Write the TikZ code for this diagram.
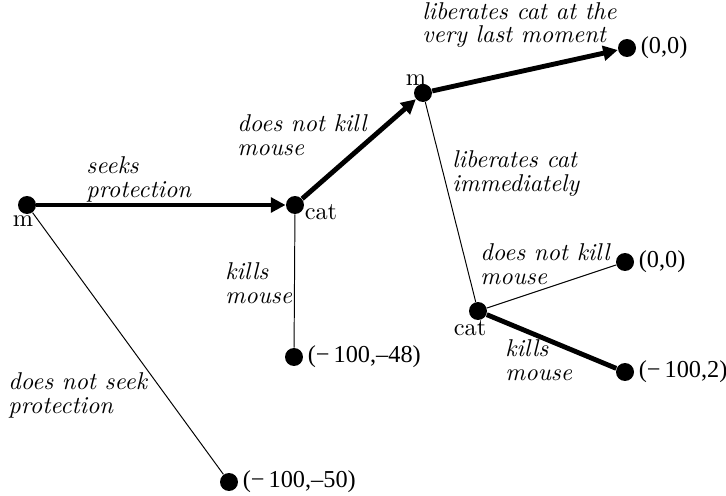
\documentclass[tikz,border=0pt]{standalone}
\usepackage{fontspec}
\newfontfamily\tms{Liberation Serif}
\usetikzlibrary{arrows.meta}
\begin{document}
\begin{tikzpicture}[x=0.4115pt,y=-0.4115pt,
  dot/.style={circle,fill,inner sep=0pt,minimum size=7.4pt},
  thk/.style={line width=2pt},
  thn/.style={line width=0.4pt},
  arr/.style={-{Triangle[length=6pt,width=6pt]}},
  elab/.style={font=\fontsize{10}{9.5}\selectfont\itshape,align=left,anchor=base west,inner sep=0pt},
  plab/.style={font=\tms\fontsize{10}{12}\selectfont,anchor=west,inner sep=1.6pt},
  plyr/.style={font=\fontsize{10}{12}\selectfont,inner sep=0pt}]
\useasboundingbox (0,0) rectangle (726,495);
% decision nodes
\node[dot] (m1) at (27,205) {};
\node[dot] (c1) at (295,205) {};
\node[dot] (m2) at (423,93) {};
\node[dot] (c2) at (478,311) {};
% terminal nodes
\node[dot] (t1) at (627,48) {};
\node[dot] (t2) at (625,262) {};
\node[dot] (t3) at (625,372) {};
\node[dot] (t4) at (294,357) {};
\node[dot] (t5) at (229,482) {};
% player labels
\node[plyr] (m1l) at (23,221) {m};
\node[plyr] (c1l) at (321,212) {cat};
\node[plyr] (m2l) at (416,80) {m};
\node[plyr] (c2l) at (470,328) {cat};
% payoffs
\node[plab] (p1) at (t1.east) {(0,0)};
\node[plab] (p2) at (t2.east) {(0,0)};
\node[plab] (p3) at (t3.east) {(−\,100,2)};
\node[plab] (p4) at (t4.east) {(−\,100,–48)};
\node[plab] (p5) at (t5.east) {(−\,100,–50)};
% edges
\draw[thk,arr] (m1) -- (c1);
\draw[thk,arr] (c1) -- (m2);
\draw[thk,arr] (m2) -- (t1);
\draw[thk] (c2) -- (t3);
\draw[thn] (m1) -- (t5);
\draw[thn] (c1) -- (t4);
\draw[thn] (m2) -- (c2);
\draw[thn] (c2) -- (t2);
% edge labels (anchored at the baseline of the last line)
\node[elab] (e1) at (86,197) {seeks\\protection};
\node[elab] (e2) at (237,155) {does not kill\\mouse};
\node[elab] (e3) at (422,43) {liberates cat at the\\very last moment};
\node[elab] (e4) at (452,191) {liberates cat\\immediately};
\node[elab] (e5) at (480,284) {does not kill\\mouse};
\node[elab] (e6) at (505,380) {kills\\mouse};
\node[elab] (e7) at (225,303) {kills\\mouse};
\node[elab] (e8) at (8,413) {does not seek\\protection};
\end{tikzpicture}
\end{document}
